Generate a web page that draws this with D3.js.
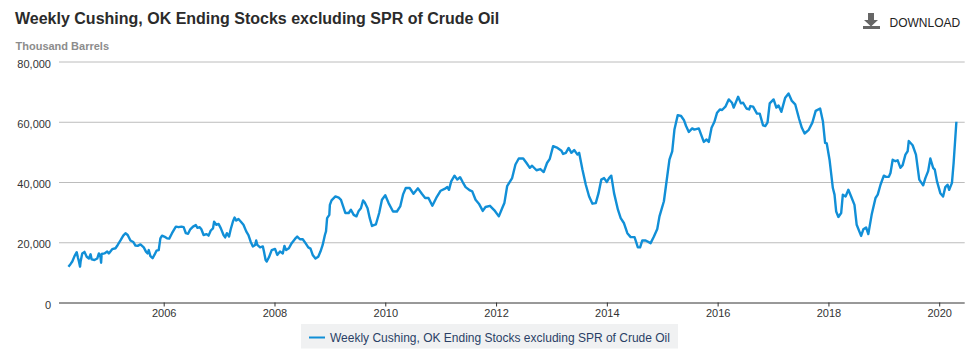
<!DOCTYPE html>
<html lang="en">
<head>
    <meta charset="UTF-8" />
    <title>Weekly Cushing, OK Ending Stocks excluding SPR of Crude Oil</title>
    <script src="https://d3js.org/d3.v7.min.js"></script>
    <style>
        html, body { margin: 0; padding: 0; background: #fff; }
        svg { display: block; font-family: "Liberation Sans", Arial, sans-serif; }
        .tick text { font-size: 11px; fill: #333; }
    </style>
</head>
<body>
    <script>
        // values, thousand barrels
        const titleText = "Weekly Cushing, OK Ending Stocks excluding SPR of Crude Oil";
        const unitText = "Thousand Barrels";
        const seriesName = "Weekly Cushing, OK Ending Stocks excluding SPR of Crude Oil";
        const yTicks = [0, 20000, 40000, 60000, 80000];
        const xTicks = [2006, 2008, 2010, 2012, 2014, 2016, 2018, 2020];

        const years = [
            2004.28, 2004.32, 2004.35, 2004.39, 2004.43, 2004.45, 2004.47, 2004.49, 2004.50, 2004.53, 2004.57, 2004.61, 2004.65, 2004.68, 2004.70, 2004.75, 2004.80, 2004.83, 2004.86, 2004.87, 2004.88, 2004.93, 2004.98,
            2005.01, 2005.07, 2005.13, 2005.17, 2005.22, 2005.27, 2005.31, 2005.35, 2005.40, 2005.45, 2005.49, 2005.53, 2005.58, 2005.64, 2005.68, 2005.71, 2005.73, 2005.76, 2005.80, 2005.83, 2005.87, 2005.91, 2005.94, 2005.97,
            2006.01, 2006.06, 2006.10, 2006.15, 2006.19, 2006.22, 2006.27, 2006.32, 2006.36, 2006.40, 2006.44, 2006.48, 2006.53, 2006.58, 2006.61, 2006.65, 2006.68, 2006.72, 2006.77, 2006.81, 2006.85, 2006.89, 2006.91, 2006.95, 2006.99,
            2007.03, 2007.08, 2007.11, 2007.14, 2007.18, 2007.21, 2007.25, 2007.28, 2007.31, 2007.35, 2007.39, 2007.44, 2007.49, 2007.53, 2007.57, 2007.61, 2007.65, 2007.67, 2007.69, 2007.74, 2007.79, 2007.81, 2007.84, 2007.86, 2007.90, 2007.95,
            2008.01, 2008.05, 2008.10, 2008.15, 2008.18, 2008.21, 2008.26, 2008.31, 2008.37, 2008.41, 2008.46, 2008.51, 2008.56, 2008.61, 2008.65, 2008.69, 2008.74, 2008.79, 2008.83, 2008.87, 2008.91, 2008.93, 2008.95, 2008.99,
            2009.00, 2009.03, 2009.10, 2009.16, 2009.20, 2009.25, 2009.28, 2009.34, 2009.38, 2009.43, 2009.48, 2009.52, 2009.56, 2009.60, 2009.63, 2009.68, 2009.72, 2009.76, 2009.83, 2009.89, 2009.94,
            2010.00, 2010.06, 2010.14, 2010.21, 2010.27, 2010.32, 2010.37, 2010.44, 2010.51, 2010.59, 2010.66, 2010.72, 2010.78, 2010.85, 2010.92,
            2011.00, 2011.07, 2011.12, 2011.15, 2011.19, 2011.25, 2011.30, 2011.35, 2011.40, 2011.45, 2011.53, 2011.57, 2011.63, 2011.69, 2011.76, 2011.81, 2011.89, 2011.97,
            2012.05, 2012.11, 2012.15, 2012.20, 2012.29, 2012.35, 2012.41, 2012.49, 2012.55, 2012.61, 2012.65, 2012.73, 2012.80, 2012.86, 2012.92, 2012.97,
            2013.03, 2013.11, 2013.18, 2013.21, 2013.26, 2013.31, 2013.36, 2013.41, 2013.47, 2013.50, 2013.56, 2013.62, 2013.68, 2013.74, 2013.80, 2013.85, 2013.90, 2013.95,
            2014.00, 2014.04, 2014.08, 2014.13, 2014.20, 2014.25, 2014.31, 2014.37, 2014.43, 2014.50, 2014.56, 2014.60, 2014.64, 2014.70, 2014.79, 2014.85, 2014.91, 2014.95,
            2015.03, 2015.09, 2015.13, 2015.18, 2015.22, 2015.28, 2015.34, 2015.39, 2015.43, 2015.48, 2015.54, 2015.58, 2015.66, 2015.70, 2015.75, 2015.80, 2015.84, 2015.89, 2015.94, 2015.99,
            2016.04, 2016.08, 2016.14, 2016.20, 2016.26, 2016.29, 2016.37, 2016.42, 2016.46, 2016.52, 2016.57, 2016.59, 2016.64, 2016.71, 2016.76, 2016.82, 2016.86, 2016.90, 2016.94,
            2017.01, 2017.06, 2017.10, 2017.15, 2017.22, 2017.28, 2017.34, 2017.40, 2017.47, 2017.52, 2017.57, 2017.64, 2017.71, 2017.77, 2017.85, 2017.90, 2017.94, 2017.97,
            2018.02, 2018.08, 2018.11, 2018.14, 2018.18, 2018.23, 2018.26, 2018.31, 2018.36, 2018.41, 2018.47, 2018.51, 2018.59, 2018.63, 2018.68, 2018.72, 2018.78, 2018.85, 2018.89, 2018.94,
            2019.00, 2019.04, 2019.09, 2019.12, 2019.16, 2019.21, 2019.25, 2019.30, 2019.34, 2019.39, 2019.43, 2019.45, 2019.52, 2019.58, 2019.64, 2019.71, 2019.75, 2019.80, 2019.84, 2019.89, 2019.92, 2019.96,
            2020.02, 2020.07, 2020.11, 2020.15, 2020.18, 2020.23, 2020.26, 2020.31
        ];

        const stocks = [
            11900, 12800, 13600, 15400, 16700, 15000, 13600, 11900, 13600, 16300, 16800, 15200, 14600, 16000, 14300, 14100, 14600, 16300, 15000, 13200, 16100, 16300, 16900,
            16300, 17700, 18000, 19100, 20600, 22200, 23000, 22400, 20600, 20100, 18900, 18800, 19300, 18300, 16900, 16300, 17400, 15400, 14700, 15700, 17200, 17400, 21300, 22200,
            21900, 21300, 21200, 23000, 24300, 25200, 25000, 25200, 25000, 23000, 22800, 24300, 25200, 25700, 24800, 25000, 24300, 22400, 22700, 22200, 23900, 24600, 26800, 25800, 26100,
            24700, 22400, 21600, 23000, 21900, 24300, 26900, 28200, 27200, 27700, 26900, 25800, 23600, 22400, 20200, 18600, 19100, 20600, 19100, 18300, 18600, 16900, 14100, 13600, 15000, 17400,
            17800, 15800, 16900, 16300, 18800, 17400, 18000, 19700, 21100, 21900, 21000, 21000, 19700, 18300, 17900, 15800, 14600, 15200, 16900, 19100, 22400, 23600, 28000, 29100,
            32400, 33900, 35200, 34800, 34100, 31300, 29700, 29700, 30800, 29100, 28600, 30400, 31300, 33900, 33200, 31300, 28000, 25400, 25900, 29700, 34100,
            35600, 33000, 30200, 30200, 31900, 35800, 38000, 38000, 36100, 37900, 36100, 34700, 34700, 32100, 34700,
            37100, 37700, 38300, 37400, 40200, 42100, 40800, 41600, 39900, 38300, 37200, 36900, 34100, 32800, 30400, 31700, 32100, 30600,
            28600, 31300, 33000, 38600, 41300, 45800, 47800, 47800, 46300, 44700, 45400, 43900, 44300, 43300, 46300, 47700,
            51900, 51300, 50400, 49300, 49700, 51300, 49700, 50600, 49100, 49700, 44100, 39100, 35200, 32800, 33000, 36300, 40800, 41300,
            40000, 41300, 42100, 36300, 30800, 28000, 26300, 23000, 21700, 21700, 18300, 18300, 20600, 20600, 19700, 21900, 24400, 28600,
            33600, 41900, 47400, 50200, 57400, 62200, 61900, 60600, 58600, 56600, 57800, 57400, 57800, 55800, 53300, 54100, 53300, 58000, 59900, 63000,
            64100, 63900, 65000, 67400, 66300, 64700, 68300, 66100, 66300, 64400, 64100, 65200, 65000, 62700, 62700, 58800, 58600, 59700, 66100,
            67400, 64700, 65400, 63300, 68000, 69400, 66900, 65800, 61000, 58000, 56100, 57200, 59700, 63600, 64400, 60200, 53000, 52800,
            47400, 38000, 35800, 30200, 28400, 29700, 35800, 35200, 37400, 35200, 32400, 25800, 22100, 24300, 24900, 22700, 29100, 34700, 35800, 39100,
            42100, 41700, 41700, 43000, 47400, 46900, 47200, 44700, 45600, 49100, 50200, 53600, 52200, 49100, 40800, 38900, 41300, 43600, 47800, 44700, 44100, 40200,
            36300, 35200, 38300, 39100, 37400, 39700, 46300, 60000
        ];

        const width = 978;
        const height = 352;

        const x = d3.scaleLinear().domain([2004.11, 2020.46]).range([59, 964.7]);
        const y = d3.scaleLinear().domain([0, 80000]).range([302.5, 61.5]);

        const svg = d3.select("body")
            .append("svg")
            .attr("width", width)
            .attr("height", height);

        // titles
        svg.append("text")
            .attr("x", 15)
            .attr("y", 24)
            .attr("font-size", 16)
            .attr("font-weight", "bold")
            .attr("fill", "#2b2b2b")
            .text(titleText);

        svg.append("text")
            .attr("x", 15.5)
            .attr("y", 50)
            .attr("font-size", 11)
            .attr("font-weight", "bold")
            .attr("fill", "#8c8c8c")
            .text(unitText);

        // download button
        const dl = svg.append("g").attr("fill", "#666");
        dl.append("path").attr("d", "M868 13h6v7h4l-7 6.5l-7-6.5h4z");
        dl.append("rect").attr("x", 863).attr("y", 26).attr("width", 17).attr("height", 3);
        svg.append("text")
            .attr("x", 889.5)
            .attr("y", 26.5)
            .attr("font-size", 12)
            .attr("fill", "#222")
            .text("DOWNLOAD");

        // y axis with gridlines
        const yAxis = svg.append("g")
            .attr("transform", "translate(59,0)")
            .call(d3.axisLeft(y).tickValues(yTicks).tickSize(0).tickPadding(7).tickFormat(d3.format(",")));
        yAxis.select(".domain").remove();
        yAxis.selectAll(".tick line")
            .attr("x2", 905.7)
            .attr("stroke", "#bcbcbc");
        yAxis.selectAll(".tick text").attr("dy", "0.5em").attr("x", -8);
        yAxis.selectAll(".tick").filter(d => d === 0).select("line").remove();

        // x axis
        const xAxis = svg.append("g")
            .attr("transform", "translate(0,302.5)")
            .call(d3.axisBottom(x).tickValues(xTicks).tickSize(4).tickPadding(3).tickFormat(d3.format("d")));
        xAxis.select(".domain").attr("stroke", "#333").attr("d", "M59,0.5H964.7");
        xAxis.selectAll(".tick line").attr("stroke", "#333");

        // series
        const line = d3.line()
            .x(d => x(d))
            .y((d, i) => y(stocks[i]));

        svg.append("path")
            .datum(years)
            .attr("d", line)
            .attr("fill", "none")
            .attr("stroke", "#118fd7")
            .attr("stroke-width", 2.4)
            .attr("stroke-linejoin", "round");

        // legend
        svg.append("rect")
            .attr("x", 301)
            .attr("y", 324)
            .attr("width", 377)
            .attr("height", 24.5)
            .attr("fill", "#f0f1f2");
        svg.append("line")
            .attr("x1", 309)
            .attr("x2", 325)
            .attr("y1", 337.5)
            .attr("y2", 337.5)
            .attr("stroke", "#118fd7")
            .attr("stroke-width", 2);
        svg.append("text")
            .attr("x", 330)
            .attr("y", 342)
            .attr("font-size", 12)
            .attr("fill", "#2a3f66")
            .text(seriesName);
    </script>
</body>
</html>
